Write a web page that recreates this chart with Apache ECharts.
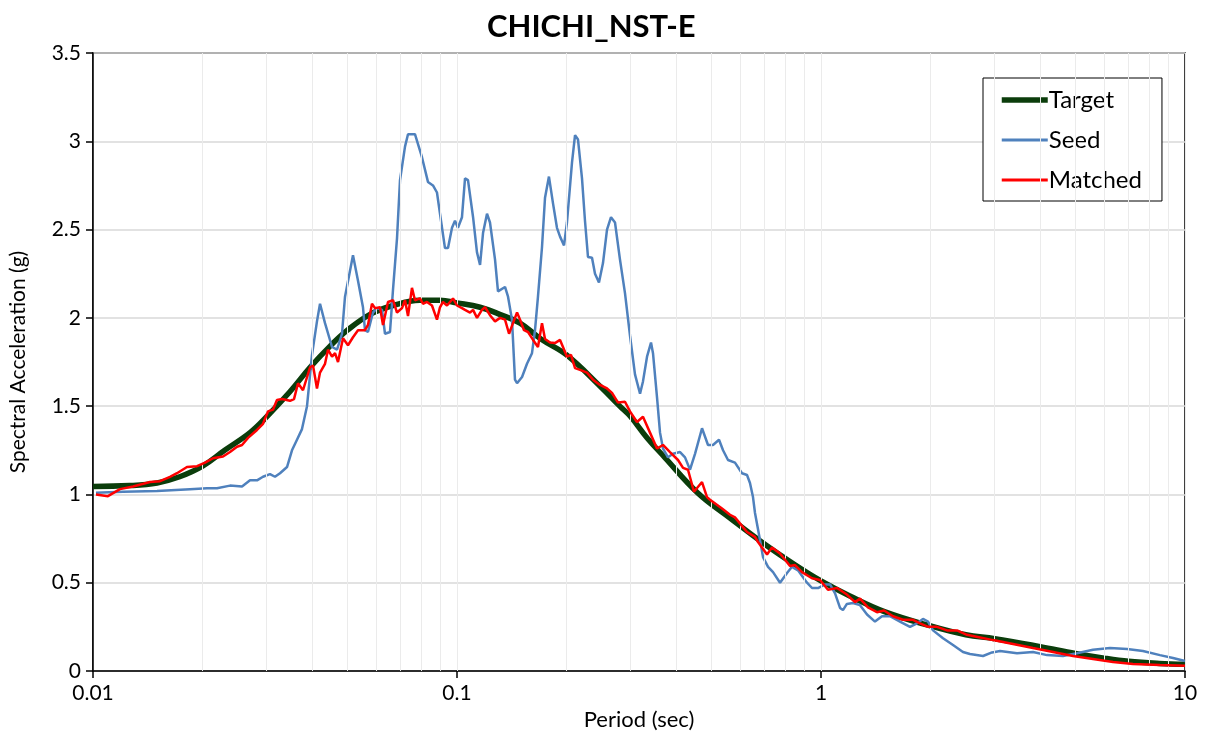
<!DOCTYPE html>
<html>
<head>
<meta charset="utf-8">
<title>CHICHI_NST-E</title>
<script src="https://cdn.jsdelivr.net/npm/echarts@6/dist/echarts.min.js"></script>
<style>
  html, body { margin: 0; padding: 0; background: #fff; }
  #chart { width: 1209px; height: 735px; }
</style>
</head>
<body>
<div id="chart"></div>
<script>
// periods (sec) and spectral accelerations (g)
var targetT = [0.01, 0.0126, 0.015, 0.0173, 0.02, 0.023, 0.027, 0.030, 0.0347, 0.0395, 0.0448, 0.05,
    0.0577, 0.0667, 0.0791, 0.0898, 0.1, 0.1157, 0.131, 0.149, 0.17, 0.2, 0.248, 0.28, 0.3, 0.333,
    0.372, 0.4578, 0.5623, 0.693, 0.85, 1.0, 1.2, 1.5, 2.0, 2.5, 3.0, 4.0, 5.0, 6.0, 7.0, 8.5, 10];
var targetSa = [1.045, 1.05, 1.065, 1.10, 1.16, 1.25, 1.35, 1.44, 1.58, 1.72, 1.84, 1.93,
    2.02, 2.07, 2.10, 2.10, 2.085, 2.06, 2.02, 1.97, 1.88, 1.79, 1.61, 1.50, 1.44, 1.32,
    1.21, 1.01, 0.866, 0.725, 0.60, 0.51, 0.425, 0.335, 0.255, 0.205, 0.183, 0.138, 0.10, 0.073, 0.055, 0.043, 0.038];

var seedT = [0.01019, 0.01209, 0.01499, 0.01847, 0.02057, 0.02191, 0.02379, 0.02567, 0.027, 0.02822,
    0.02931, 0.03064, 0.03162, 0.03264, 0.03412, 0.03521, 0.03634, 0.03751, 0.03872, 0.03996,
    0.04124, 0.04204, 0.04339, 0.04536, 0.04682, 0.04831, 0.04924, 0.05179, 0.05346, 0.05517,
    0.05587, 0.05694, 0.05877, 0.06027, 0.06223, 0.06341, 0.06545, 0.06671, 0.06842, 0.06973,
    0.07197, 0.07335, 0.07665, 0.08012, 0.08322, 0.0859, 0.0881, 0.08979, 0.09268, 0.09447,
    0.09689, 0.09874, 0.1006, 0.1032, 0.1052, 0.1072, 0.1107, 0.1135, 0.1157, 0.1179,
    0.1209, 0.1232, 0.1272, 0.1296, 0.1355, 0.1381, 0.1416, 0.1443, 0.1462, 0.1509,
    0.1557, 0.1607, 0.1638, 0.1669, 0.1712, 0.1745, 0.1789, 0.1835, 0.1882, 0.1919,
    0.1968, 0.2005, 0.207, 0.211, 0.215, 0.2205, 0.2247, 0.229, 0.2349, 0.2394,
    0.2455, 0.2518, 0.2583, 0.2649, 0.2717, 0.2804, 0.2894, 0.2987, 0.3083, 0.3183,
    0.3243, 0.3327, 0.3412, 0.3455, 0.3544, 0.3612, 0.3681, 0.3799, 0.3921, 0.41,
    0.4231, 0.4367, 0.4507, 0.4711, 0.4893, 0.505, 0.5246, 0.5381, 0.5553, 0.5803,
    0.6067, 0.6262, 0.6381, 0.6504, 0.6587, 0.68, 0.693, 0.7153, 0.7383, 0.7717,
    0.8066, 0.8324, 0.8647, 0.9152, 0.9447, 0.9813, 1.026, 1.059, 1.093, 1.128,
    1.149, 1.178, 1.224, 1.28, 1.338, 1.407, 1.471, 1.547, 1.648, 1.756,
    1.835, 1.906, 1.968, 2.031, 2.164, 2.305, 2.455, 2.566, 2.787, 2.95,
    3.104, 3.456, 3.823, 4.177, 4.621, 5.05, 5.588, 6.223, 6.93, 7.665,
    8.535, 9.269, 10];
var seedSa = [1.01, 1.015, 1.02, 1.03, 1.035, 1.035, 1.05, 1.045, 1.08, 1.08,
    1.10, 1.115, 1.10, 1.12, 1.155, 1.25, 1.31, 1.37, 1.50, 1.79,
    1.98, 2.08, 1.97, 1.835, 1.82, 1.91, 2.12, 2.355, 2.21, 2.06,
    1.93, 1.92, 2.03, 2.055, 2.045, 1.91, 1.92, 2.16, 2.45, 2.78,
    2.97, 3.04, 3.04, 2.91, 2.77, 2.75, 2.71, 2.59, 2.395, 2.395,
    2.51, 2.55, 2.51, 2.57, 2.79, 2.78, 2.57, 2.37, 2.30, 2.48,
    2.59, 2.54, 2.33, 2.15, 2.175, 2.12, 1.99, 1.65, 1.63, 1.665,
    1.74, 1.80, 1.93, 2.12, 2.40, 2.68, 2.80, 2.65, 2.51, 2.46,
    2.41, 2.54, 2.88, 3.035, 3.01, 2.79, 2.55, 2.345, 2.34, 2.25,
    2.20, 2.31, 2.50, 2.57, 2.54, 2.33, 2.14, 1.90, 1.68, 1.57,
    1.64, 1.78, 1.86, 1.80, 1.55, 1.35, 1.26, 1.21, 1.23, 1.24,
    1.21, 1.14, 1.23, 1.375, 1.28, 1.28, 1.31, 1.25, 1.195, 1.18,
    1.12, 1.11, 1.065, 0.985, 0.895, 0.74, 0.645, 0.59, 0.56, 0.50,
    0.555, 0.59, 0.57, 0.50, 0.47, 0.47, 0.49, 0.49, 0.44, 0.357,
    0.345, 0.38, 0.385, 0.373, 0.32, 0.28, 0.31, 0.31, 0.28, 0.25,
    0.27, 0.295, 0.28, 0.23, 0.185, 0.147, 0.108, 0.096, 0.085, 0.105,
    0.113, 0.10, 0.108, 0.09, 0.085, 0.10, 0.12, 0.13, 0.125, 0.113,
    0.09, 0.074, 0.057];

var matchT = [0.01019, 0.01099, 0.01186, 0.01288, 0.01434, 0.01528, 0.01627, 0.01701, 0.01812, 0.01931,
    0.02031, 0.02136, 0.02276, 0.02379, 0.02487, 0.02567, 0.02666, 0.02822, 0.02931, 0.03025,
    0.03122, 0.03202, 0.03305, 0.03477, 0.03566, 0.03658, 0.03775, 0.03947, 0.04022, 0.04124,
    0.04204, 0.04339, 0.04422, 0.04536, 0.04623, 0.04711, 0.04862, 0.05018, 0.05179, 0.05346,
    0.05587, 0.05694, 0.0584, 0.05952, 0.06144, 0.06262, 0.06463, 0.06671, 0.06842, 0.07062,
    0.07197, 0.07335, 0.07521, 0.07665, 0.07911, 0.08063, 0.0827, 0.08536, 0.0881, 0.08979,
    0.09152, 0.09387, 0.0975, 0.1, 0.1032, 0.1052, 0.1086, 0.1107, 0.1135, 0.1171,
    0.1194, 0.1232, 0.1272, 0.1313, 0.1355, 0.139, 0.1425, 0.1462, 0.149, 0.1528,
    0.1567, 0.1618, 0.1669, 0.1712, 0.1745, 0.1801, 0.1858, 0.1919, 0.1955, 0.2005,
    0.2057, 0.211, 0.2177, 0.2276, 0.2364, 0.2471, 0.2583, 0.2666, 0.2769, 0.2894,
    0.2987, 0.3122, 0.3243, 0.339, 0.3544, 0.3681, 0.3847, 0.4047, 0.4178, 0.4311,
    0.4478, 0.4711, 0.4862, 0.4955, 0.5346, 0.5623, 0.5803, 0.6105, 0.6262, 0.6587,
    0.6714, 0.7108, 0.7335, 0.7717, 0.822, 0.8484, 0.8866, 0.9447, 0.9938, 1.045,
    1.107, 1.178, 1.24, 1.28, 1.346, 1.425, 1.49, 1.577, 1.68, 1.789,
    1.871, 1.968, 2.083, 2.219, 2.364, 2.518, 2.735, 2.969, 3.37, 3.823,
    4.339, 4.924, 5.588, 6.342, 7.197, 8.535, 10];
var matchSa = [1.00, 0.99, 1.03, 1.045, 1.07, 1.075, 1.10, 1.12, 1.155, 1.16,
    1.18, 1.205, 1.215, 1.24, 1.27, 1.28, 1.32, 1.365, 1.40, 1.47,
    1.48, 1.535, 1.54, 1.53, 1.54, 1.63, 1.59, 1.72, 1.73, 1.60,
    1.69, 1.74, 1.82, 1.78, 1.80, 1.75, 1.885, 1.845, 1.89, 1.93,
    1.93, 1.96, 2.08, 2.055, 2.06, 1.96, 2.09, 2.10, 2.03, 2.055,
    2.10, 2.01, 2.17, 2.10, 2.11, 2.08, 2.09, 2.07, 1.99, 2.06,
    2.09, 2.07, 2.11, 2.07, 2.055, 2.045, 2.03, 2.045, 2.00, 2.045,
    2.06, 2.015, 1.98, 2.00, 1.99, 1.91, 1.97, 2.03, 1.99, 1.93,
    1.92, 1.875, 1.835, 1.97, 1.88, 1.86, 1.857, 1.875, 1.835, 1.78,
    1.79, 1.715, 1.705, 1.69, 1.65, 1.62, 1.60, 1.575, 1.52, 1.525,
    1.47, 1.41, 1.44, 1.35, 1.26, 1.28, 1.24, 1.195, 1.15, 1.14,
    1.015, 1.07, 0.985, 0.97, 0.92, 0.885, 0.87, 0.815, 0.787, 0.76,
    0.73, 0.66, 0.70, 0.665, 0.595, 0.60, 0.56, 0.525, 0.515, 0.46,
    0.47, 0.433, 0.39, 0.41, 0.36, 0.333, 0.343, 0.31, 0.29, 0.29,
    0.27, 0.25, 0.25, 0.23, 0.23, 0.205, 0.19, 0.175, 0.153, 0.13,
    0.108, 0.085, 0.068, 0.051, 0.04, 0.034, 0.03];

var xTickLabels = ['0.01', '0.1', '1', '10'];

// light vertical lines at 2..9 of every decade (Excel minor gridlines)
var minorX = [];
[0.01, 0.1, 1].forEach(function (d) {
    for (var k = 1; k <= 9; k++) {
        if (d * k > 0.01) minorX.push({ xAxis: +(d * k).toPrecision(3) });
    }
});

function pairs(xs, ys) {
    var out = [];
    for (var i = 0; i < xs.length; i++) out.push([xs[i], ys[i]]);
    return out;
}

var chart = echarts.init(document.getElementById('chart'));
var font = 'Lato, "Open Sans", sans-serif';

chart.setOption({
    backgroundColor: '#fff',
    animation: false,
    title: {
        text: 'CHICHI_NST-E',
        left: 482,
        top: 6,
        textStyle: { fontFamily: font, fontSize: 31, fontWeight: 'bold', color: '#000' }
    },
    legend: {
        data: [
            { name: 'Target', lineStyle: { width: 5.5 } },
            { name: 'Seed', lineStyle: { width: 3 } },
            { name: 'Matched', lineStyle: { width: 3 } }
        ],
        orient: 'vertical',
        left: 983,
        top: 78,
        padding: [10, 20, 9, 16],
        itemGap: 16,
        itemWidth: 46,
        itemHeight: 14,
        itemStyle: { opacity: 0 },
        backgroundColor: '#fff',
        borderColor: '#000',
        borderWidth: 1,
        borderRadius: 0,
        textStyle: { fontFamily: font, fontSize: 24, color: '#000', padding: [0, 0, 0, -4] }
    },
    grid: {
        left: 93, right: 24, top: 53, bottom: 64,
        outerBoundsMode: 'none',
        containLabel: false,
        show: true, borderColor: '#000', borderWidth: 1.5, backgroundColor: '#fff'
    },
    xAxis: {
        type: 'log',
        logBase: 10,
        min: 0.01,
        max: 10,
        name: 'Period (sec)',
        nameLocation: 'middle',
        nameGap: 37,
        nameTextStyle: { fontFamily: font, fontSize: 22, color: '#000' },
        axisLine: { lineStyle: { color: '#000', width: 1.5 } },
        axisTick: { length: 7, lineStyle: { color: '#000', width: 1.5 } },
        axisLabel: {
            fontFamily: font, fontSize: 21, color: '#000', margin: 12,
            formatter: function (v) {
                var s = (+v.toPrecision(3)).toString();
                return xTickLabels.indexOf(s) >= 0 ? s : '';
            }
        },
        splitLine: { show: true, lineStyle: { color: '#ebebeb', width: 1 } }
    },
    yAxis: {
        type: 'value',
        min: 0,
        max: 3.5,
        interval: 0.5,
        name: 'Spectral Acceleration (g)',
        nameLocation: 'middle',
        nameGap: 64,
        nameTextStyle: { fontFamily: font, fontSize: 21, color: '#000' },
        axisLine: { show: true, lineStyle: { color: '#000', width: 1.5 } },
        axisTick: { show: true, length: 7, lineStyle: { color: '#000', width: 1.5 } },
        axisLabel: { fontFamily: font, fontSize: 21, color: '#000', margin: 12 },
        splitLine: { lineStyle: { color: '#d9d9d9', width: 1.5 } }
    },
    series: [
        {
            name: 'grid',
            type: 'line',
            data: [],
            z: 1,
            silent: true,
            markLine: {
                silent: true,
                symbol: ['none', 'none'],
                label: { show: false },
                lineStyle: { color: '#ebebeb', width: 1, type: 'solid' },
                data: minorX
            }
        },
        {
            name: 'Target',
            type: 'line',
            data: pairs(targetT, targetSa),
            smooth: 0.4,
            symbol: 'none',
            color: '#0b3d0b',
            lineStyle: { color: '#0b3d0b', width: 5.5 },
            z: 3
        },
        {
            name: 'Seed',
            type: 'line',
            data: pairs(seedT, seedSa),
            symbol: 'none',
            color: '#4f81bd',
            lineStyle: { color: '#4f81bd', width: 2.5 },
            z: 4
        },
        {
            name: 'Matched',
            type: 'line',
            data: pairs(matchT, matchSa),
            symbol: 'none',
            color: '#ff0000',
            lineStyle: { color: '#ff0000', width: 2.5 },
            z: 5
        }
    ]
});
</script>
</body>
</html>
